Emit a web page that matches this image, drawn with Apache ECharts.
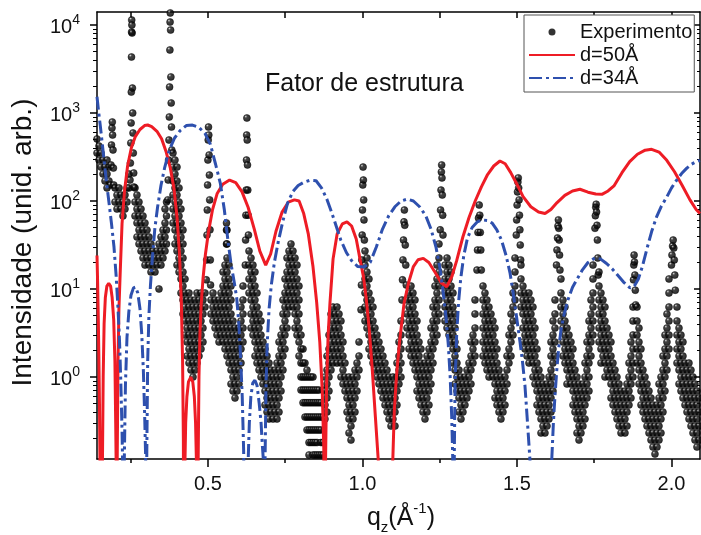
<!DOCTYPE html>
<html><head><meta charset="utf-8">
<script src="https://cdn.jsdelivr.net/npm/echarts@6/dist/echarts.min.js"></script>
<style>html,body{margin:0;padding:0;background:#fff}#c{width:701px;height:535px}</style>
</head><body><div id="c"></div>
<script>
// ---------- tick values ----------
const xTicksMajor = [0.5, 1.0, 1.5, 2.0];
const xTicksMinor = [0.25, 0.75, 1.25, 1.75];
const xTicksTop = [0.25, 0.5, 0.75, 1.0, 1.25, 1.5, 1.75, 2.0];
const yTicksMajor = [1, 10, 100, 1000, 10000];
const yTicksMinor = [0.2,0.3,0.4,0.5,0.6,0.7,0.8,0.9,2,3,4,5,6,7,8,9,20,30,40,50,60,70,80,90,
  200,300,400,500,600,700,800,900,2000,3000,4000,5000,6000,7000,8000,9000];

// ---------- model d=50 Å (red) [q, I] ----------
const red50 = [
[0.141,24],[0.143,12],[0.145,5],[0.147,1.8],[0.149,0.5],[0.1505,0.12],[0.155,0.001],[0.1575,0.05],[0.159,0.15],
[0.161,1.0],[0.164,4],[0.168,8],[0.173,10.8],[0.179,11.6],[0.185,10.8],[0.190,8],[0.195,4.5],[0.199,1.5],[0.2015,0.3],
[0.203,0.1],[0.2051,0.001],[0.2065,0.12],[0.209,1.5],[0.212,6],[0.216,15],[0.222,55],[0.230,130],[0.240,250],[0.252,400],
[0.265,540],[0.280,650],[0.295,720],[0.305,731],[0.318,700],[0.335,620],[0.350,510],[0.365,360],[0.378,240],[0.390,140],
[0.400,65],[0.408,25],[0.414,7],[0.418,1.5],[0.4205,0.2],[0.4226,0.001],[0.4255,0.1],[0.428,0.3],[0.432,0.6],[0.437,0.88],
[0.4443,1.0],[0.451,0.88],[0.456,0.6],[0.460,0.3],[0.4625,0.12],[0.4662,0.001],[0.4685,0.12],[0.471,1],[0.474,3],[0.478,6.5],
[0.484,13],[0.492,25],[0.502,45],[0.515,80],[0.530,122],[0.548,155],[0.570,173],[0.590,162],[0.610,128],[0.630,85],
[0.650,48],[0.668,27],[0.687,18.7],[0.703,25],[0.720,45],[0.740,75],[0.760,97],[0.780,103],[0.795,100],[0.810,72],
[0.825,42],[0.840,18],[0.852,7],[0.862,2.5],[0.870,0.7],[0.875,0.15],[0.8778,0.001],[0.8805,0.1],[0.884,0.8],[0.889,3],
[0.895,7],[0.905,22],[0.918,42],[0.935,55],[0.950,58],[0.965,52],[0.980,37],[0.992,22],[1.003,14],[1.012,8],[1.022,3.5],
[1.032,1.2],[1.042,0.35],[1.0515,0.11],[1.075,0.001],[1.0985,0.12],[1.103,0.4],[1.110,1.0],[1.120,2.5],[1.135,7],[1.150,12],
[1.165,18],[1.180,21.5],[1.197,22.3],[1.215,20],[1.235,15.5],[1.255,11.8],[1.273,10.6],[1.290,14],[1.305,21],[1.325,39],
[1.345,65],[1.365,100],[1.385,145],[1.405,200],[1.425,250],[1.445,285],[1.462,265],[1.480,210],[1.500,155],[1.520,112],
[1.545,86],[1.570,75],[1.591,72],[1.610,80],[1.630,96],[1.655,116],[1.680,130],[1.704,136],[1.730,126],[1.755,120],
[1.775,119],[1.795,130],[1.815,150],[1.840,210],[1.865,280],[1.890,340],[1.915,378],[1.936,387],[1.960,360],[1.985,290],
[2.010,215],[2.035,150],[2.060,103],[2.080,80],[2.0925,72]
];

// ---------- model d=34 Å (blue) [q, I] ----------
const blue34 = [
[0.141,1530],[0.146,1050],[0.152,700],[0.158,450],[0.165,270],[0.172,160],[0.180,95],[0.188,55],[0.196,30],[0.203,14],
[0.209,6],[0.214,2.5],[0.218,0.9],[0.222,0.25],[0.2245,0.08],[0.2265,0.001],[0.2295,0.12],[0.233,0.8],[0.238,2.8],[0.244,5.5],
[0.251,8.5],[0.259,10.3],[0.266,10.5],[0.273,9],[0.280,6],[0.286,3],[0.291,1.2],[0.295,0.4],[0.2985,0.12],[0.3005,0.001],
[0.302,0.12],[0.305,1.5],[0.309,5],[0.314,11],[0.320,22],[0.328,48],[0.337,85],[0.348,150],[0.360,240],[0.375,380],
[0.392,520],[0.410,630],[0.430,720],[0.450,730],[0.470,690],[0.490,590],[0.508,440],[0.525,260],[0.540,160],[0.553,80],
[0.565,35],[0.575,19],[0.585,12],[0.593,8],[0.600,4],[0.606,1.6],[0.611,0.6],[0.6155,0.15],[0.624,0.001],[0.6305,0.12],
[0.634,0.3],[0.639,0.6],[0.645,0.85],[0.652,0.92],[0.659,0.8],[0.666,0.5],[0.672,0.3],[0.676,0.17],[0.679,0.12],[0.682,0.001],
[0.685,0.12],[0.688,0.8],[0.692,2.5],[0.698,6],[0.705,11],[0.715,20],[0.728,35],[0.742,58],[0.758,95],[0.775,128],
[0.792,150],[0.810,163],[0.830,172],[0.850,170],[0.868,140],[0.885,105],[0.900,75],[0.915,52],[0.930,36],[0.948,26],
[0.965,21],[0.985,18],[1.005,17.8],[1.025,20],[1.045,30],[1.065,48],[1.085,68],[1.105,86],[1.125,100],[1.145,105],
[1.165,100],[1.185,86],[1.205,68],[1.222,48],[1.238,30],[1.250,18],[1.260,10],[1.270,5],[1.278,2.3],[1.284,1.0],
[1.289,0.35],[1.2925,0.11],[1.2945,0.001],[1.2975,0.15],[1.300,0.9],[1.305,3],[1.311,7],[1.318,13],[1.328,24],[1.340,38],
[1.355,50],[1.372,58],[1.388,61],[1.405,60],[1.420,56],[1.435,47],[1.450,36],[1.465,24],[1.478,15],[1.490,8],
[1.500,4.5],[1.510,2.5],[1.518,1.5],[1.526,0.8],[1.533,0.35],[1.540,0.15],[1.545,0.08],[1.549,0.001],[1.609,0.001],[1.613,0.12],
[1.618,0.3],[1.623,0.6],[1.629,1.2],[1.635,2.1],[1.643,3.5],[1.652,5],[1.665,7.5],[1.680,10.5],[1.695,13],[1.712,16.5],
[1.730,20],[1.752,22.5],[1.770,22],[1.790,19.5],[1.808,17],[1.825,14.5],[1.845,12],[1.866,10.3],[1.880,10.8],[1.893,13],
[1.906,18],[1.920,28],[1.936,45],[1.952,66],[1.968,88],[1.985,111],[2.000,140],[2.017,173],[2.033,205],[2.049,235],
[2.065,262],[2.080,280],[2.0925,290]
];

const expA = [
[0.1410,507,351],[0.1475,422,292],[0.1539,351,243],[0.1604,292,203],[0.1669,243,169],[0.1734,292,203,141],[0.1798,243,169],
[0.1847,152],[0.1863,257],[0.1879,433],[0.1895,676],[0.1905,790],[0.1915,562],[0.1928,380],[0.1941,237],[0.1954,152],
[0.1993,141,97.5],[0.2057,117,81.1],[0.2122,141,97.5],[0.2187,117,81.1],[0.2251,97.5,67.6],[0.2316,117,81.1],[0.2381,141,97.5],[0.2446,203,141],
[0.2478,173],[0.2491,270],[0.2504,456],[0.2514,770],[0.2520,1730],[0.2526,4330],[0.2530,8330],[0.2533,11400],[0.2539,10000],
[0.2546,8110],[0.2556,1920],[0.2565,1000],[0.2575,593],[0.2585,351],[0.2598,208],[0.2607,144],
[0.2640,141,97.5,67.6],[0.2704,117,81.1,56.3,39],[0.2769,97.5,67.6,46.8,32.5],[0.2834,81.1,56.3,39,27],[0.2899,67.6,46.8,32.5,22.5],
[0.2963,56.3,39,27,18.7],[0.3028,46.8,32.5,22.5],[0.3093,39,27,18.7],[0.3157,32.5,22.5,15.6],[0.3222,27,18.7],[0.3287,22.5,15.6],
[0.3352,27,18.7],[0.3416,32.5,22.5,10],[0.3481,39,27,18.7],[0.3546,46.8,32.5,22.5],[0.3611,81.1,56.3,39,27],[0.3659,97.5,67.6,46.8,32.5],
[0.3701,103],[0.3714,173],[0.3727,292],[0.3740,493],[0.3750,901],[0.3759,1975],[0.3769,5200],[0.3775,10800],[0.3782,13700],
[0.3792,8770],[0.3801,2570],[0.3811,1300],[0.3821,693],[0.3831,380],
[0.3869,351,243,169,117,81.1,56.3],[0.3934,292,203,141,97.5,67.6,46.8,32.5],[0.3999,243,169,117,81.1,56.3,39,27,18.7],
[0.4064,141,97.5,67.6,46.8,32.5,22.5,15.6],[0.4128,81.1,56.3,39,27,18.7,13,9.01],[0.4193,46.8,32.5,22.5,15.6,10.8,7.5,5.2],
[0.4258,13,9.01,6.24,4.33,3],[0.4323,7.5,5.2,3.6,2.5,1.73],[0.4387,9.01,6.24,4.33,3,2.08,1.44],[0.4452,7.5,5.2,3.6,2.5,1.73,1.2],
[0.4517,6.24,4.33,3,2.08,1.44,1],[0.4581,7.5,5.2,3.6,2.5,1.73,1.2],[0.4646,9.01,6.24,4.33,3,2.08,1.44],[0.4711,7.5,5.2,3.6,2.5,1.73],
[0.4776,9.01,6.24,4.33,3,2.08],[0.4840,7.5,5.2,3.6,2.5],[0.4905,9.01,6.24],
[0.4947,12.7],[0.4960,21.4],[0.4970,41],[0.4979,79],[0.4989,152],[0.4999,292],[0.5009,493],[0.5018,693],[0.5028,562],
[0.5038,333],[0.5047,197],[0.5057,103],[0.5067,47],[0.5077,21.4],[0.5086,11.1]
];
const expB = [
[0.5099,7.5,5.2],[0.5164,9.01,6.24,4.33],[0.5229,7.5,5.2,3.6],[0.5293,6.24,4.33,3],[0.5358,7.5,5.2,3.6,2.5],[0.5423,9.01,6.24,4.33,3],
[0.5488,15.6,10.8,7.5,5.2,3.6,2.5],[0.5552,18.7,13,9.01,6.24,4.33,3,2.08],[0.5601,32.5,46.8,56.3],
[0.5617,46.8,32.5,22.5,15.6,10.8,7.5,5.2,3.6,2.5,1.73],[0.5682,18.7,13,9.01,6.24,4.33,3,2.08,1.44],
[0.5746,10.8,7.5,5.2,3.6,2.5,1.73,1.2,0.833],[0.5811,4.33,3,2.08,1.44,1,0.693],[0.5876,3.6,2.5,1.73,1.2,0.833,0.577],
[0.5941,3,2.08,1.44,1,0.693],[0.6005,3.6,2.5,1.73,1.2,0.833],[0.6070,6.24,4.33,3,2.08,1.44],[0.6135,10.8,7.5,5.2,3.6,2.5],
[0.6209,18.7],[0.6219,36],[0.6229,69],[0.6238,133],[0.6248,292],[0.6254,562],[0.6261,877],[0.6271,493],[0.6280,257],
[0.6290,133],[0.6300,69],[0.6310,41],
[0.6329,27,18.7,13,9.01],[0.6394,22.5,15.6,10.8,7.5,5.2,3.6],[0.6458,18.7,13,9.01,6.24,4.33,3],[0.6523,15.6,10.8,7.5,5.2,3.6,2.5,1.73],
[0.6588,9.01,6.24,4.33,3,2.08,1.44],[0.6653,5.2,3.6,2.5,1.73,1.2],[0.6717,4.33,3,2.08,1.44,1],[0.6782,2.5,1.73,1.2,0.833],
[0.6847,2.08,1.44,1,0.693,0.481],[0.6912,1.73,1.2,0.833,0.577,0.4],[0.6976,1.44,1,0.693,0.481,0.333],[0.7041,1.2,0.833,0.577,0.4],
[0.7106,1,0.693,0.481,0.333],[0.7170,1.2,0.833,0.577,0.4],[0.7235,1.44,1,0.693,0.481,0.333],[0.7300,2.5,1.73,1.2,0.833,0.577,0.4],
[0.7365,3,2.08,1.44,1,0.693],[0.7429,7.5,5.2,3.6,2.5,1.73,1.2],[0.7494,13,9.01,6.24,4.33,3,2.08],[0.7559,22.5,15.6,10.8,7.5,5.2,3.6],
[0.7623,27,18.7,13,9.01,6.24],[0.7688,32.5,22.5,15.6,10.8,7.5],[0.7753,27,18.7,13,9.01,6.24],[0.7818,22.5,15.6,10.8,7.5,5.2,3.6],
[0.7882,18.7,13,9.01,6.24,4.33,3],[0.7947,10.8,7.5,5.2,3.6,2.5,1.73],
[0.8012,3,2.08,1.44,1,0.71],[0.8077,2.08,1.44,1,0.71,0.51],[0.8141,1.44,1,0.71,0.51,0.35],[0.8206,1.2,1,0.71,0.51,0.35,0.25],
[0.8271,1,0.71,0.51,0.35,0.25,0.18,0.13],[0.8335,1,0.71,0.51,0.35,0.25,0.18],[0.8400,1,0.71,0.51,0.35,0.25,0.18,0.13],
[0.8465,0.71,0.51,0.35,0.25,0.18,0.13],[0.8530,0.71,0.51,0.35,0.25,0.18,0.13],[0.8594,0.71,0.51,0.35,0.25,0.13],
[0.8659,0.51,0.35,0.25,0.18,0.13],[0.8724,0.71,0.35,0.18,0.13],
[0.8788,1,0.693,0.481,0.333],[0.8853,1.73,1.2,0.833,0.577,0.4],[0.8918,3,2.08,1.44,1,0.693],[0.8983,5.2,3.6,2.5,1.73,1.2],
[0.9047,6.24,4.33,3,2.08,1.44],[0.9112,5.2,3.6,2.5,1.73],[0.9177,6.24,4.33,3,2.08,1.44],[0.9242,5.2,3.6,2.5,1.73],
[0.9306,4.33,3,2.08,1.44,1],[0.9371,2.5,1.73,1.2,0.833],[0.9436,1.44,1,0.693],
[0.9501,0.833,0.577,0.4],[0.9565,1,0.693,0.481,0.333,0.231],[0.9630,0.833,0.577,0.4,0.277,0.192],[0.9695,1,0.693,0.481,0.333],
[0.9759,1.2,0.833,0.577,0.4],[0.9824,1.44,1,0.693],[0.9889,2.5,1.73,1.2],
[0.9954,5.8],[0.9967,11.1],[0.9980,21.4],[0.9992,41],[1.0002,79],[1.0012,152],[1.0021,243],[1.0031,173],[1.0041,103],
[1.0050,61],[1.0063,36]
];
const expC = [
[1.0083,27,18.7,13,9.01,6.24,4.33],[1.0147,22.5,15.6,10.8,7.5,5.2,3.6],[1.0212,13,9.01,6.24,4.33,3,2.08],[1.0277,7.5,5.2,3.6,2.5,1.73],
[1.0342,6.24,4.33,3,2.08,1.44],[1.0406,3.6,2.5,1.73,1.2],[1.0471,3,2.08,1.44,1],[1.0536,2.5,1.73,1.2,0.833],[1.0601,2.08,1.44,1,0.693],
[1.0665,1.73,1.2,0.833,0.577],[1.0730,1.44,1,0.693,0.481],[1.0795,1.2,0.833,0.577,0.4],[1.0859,1,0.693,0.481,0.333],
[1.0924,0.833,0.577,0.4,0.277],[1.0989,1,0.693,0.481,0.333],[1.1054,0.833,0.577,0.4,0.277],[1.1118,1.44,1,0.693,0.481],
[1.1183,2.5,1.73,1.2,0.833],[1.1248,4.33,3,2.08,1.44,1],
[1.1280,7.5],[1.1296,12.7],[1.1312,21.4],[1.1329,36],[1.1345,58],[1.1358,79],[1.1371,53],[1.1387,31.6],[1.1403,18.7],[1.1419,11.1],
[1.1442,7.5,5.2,3.6],[1.1507,9.01,6.24,4.33,3,2.08],[1.1572,10.8,7.5,5.2,3.6,2.5,1.73],[1.1636,9.01,6.24,4.33,3,2.08,1.44],
[1.1701,7.5,5.2,3.6,2.5,1.73,1.2],[1.1766,4.33,3,2.08,1.44,1,0.693],[1.1831,2.5,1.73,1.2,0.833,0.577],[1.1895,2.08,1.44,1,0.693,0.481],
[1.1960,1.2,0.833,0.577,0.4],[1.2025,1.44,1,0.693,0.481,0.333],[1.2089,1.73,1.2,0.833,0.577,0.4],[1.2154,2.08,1.44,1,0.693,0.481],
[1.2219,3.6,2.5,1.73,1.2,0.833],[1.2284,6.24,4.33,3,2.08,1.44],[1.2348,10.8,7.5,5.2,3.6,2.5],[1.2413,18.7,13,9.01,6.24,4.33,3],
[1.2478,32.5,22.5,15.6,10.8,7.5,5.2],
[1.2517,47],[1.2530,79],[1.2543,133],[1.2555,214],[1.2565,257],[1.2575,183],[1.2585,117],[1.2598,69],[1.2607,41],
[1.2672,18.7,13,9.01,6.24,4.33],[1.2737,22.5,15.6,10.8,7.5,5.2,3.6],[1.2801,18.7,13,9.01,6.24,4.33,3],[1.2866,15.6,10.8,7.5,5.2,3.6,2.5],
[1.2931,9.01,6.24,4.33,3,2.08,1.44],[1.2996,5.2,3.6,2.5,1.73,1.2,0.833],[1.3060,2.08,1.44,1,0.693],[1.3125,1.2,0.833,0.577,0.4],
[1.3190,1,0.693,0.481,0.333],[1.3254,0.833,0.577,0.4],[1.3319,1,0.693,0.481],[1.3384,1.2,0.833,0.577],[1.3449,1.44,1,0.693],
[1.3513,2.5,1.73,1.2,0.833],[1.3578,3,2.08,1.44],[1.3643,7.5,5.2,3.6,2.5,1.73],
[1.3708,16.4],[1.3724,27.7],[1.3740,44],[1.3756,64],[1.3779,90],[1.3798,69],[1.3814,44],[1.3831,27.7],[1.3847,16.4],
[1.3902,10.8,7.5,5.2,3.6,2.5,1.73],[1.3966,9.01,6.24,4.33,3,2.08,1.44],[1.4031,7.5,5.2,3.6,2.5,1.73,1.2],[1.4096,6.24,4.33,3,2.08,1.44,1],
[1.4161,5.2,3.6,2.5,1.73,1.2],[1.4225,4.33,3,2.08,1.44,1],[1.4290,3.6,2.5,1.73,1.2,0.833,0.577],[1.4355,2.08,1.44,1,0.693,0.481],
[1.4419,1.2,0.833,0.577,0.4],[1.4484,1,0.693,0.481,0.333],[1.4549,0.833,0.577,0.4],[1.4614,1,0.693,0.481],[1.4678,1.73,1.2,0.833],
[1.4743,3,2.08,1.44],[1.4808,5.2,3.6,2.5,1.73],[1.4873,9.01,6.24,4.33,3],[1.4937,22.5,15.6,10.8,7.5],
[1.4979,41],[1.4992,61],[1.5005,90],[1.5018,127],[1.5031,164],[1.5044,183],[1.5057,141],[1.5070,103],[1.5083,69],[1.5096,47],
[1.5108,31.6],[1.5121,21.4]
];
const expD = [
[1.5131,18.7,13,9.01,6.24],[1.5196,10.8,7.5,5.2,3.6,2.5],[1.5261,9.01,6.24,4.33,3,2.08],[1.5325,7.5,5.2,3.6,2.5,1.73],
[1.5390,9.01,6.24,4.33,3,2.08,1.44],[1.5455,7.5,5.2,3.6,2.5,1.73],[1.5520,6.24,4.33,3,2.08,1.44,1],[1.5584,3.6,2.5,1.73,1.2,0.833],
[1.5649,2.08,1.44,1,0.693,0.481],[1.5714,1.2,0.833,0.577,0.4],[1.5779,1,0.693,0.481,0.333,0.231],[1.5843,0.833,0.577,0.4,0.277],
[1.5908,0.693,0.481,0.333,0.231],[1.5973,0.833,0.577,0.4,0.277],[1.6038,1,0.693,0.481,0.333],[1.6102,2.5,1.73,1.2,0.833,0.577,0.4],
[1.6167,4.33,3,2.08,1.44,1,0.693],[1.6232,7.5,5.2,3.6,2.5,1.73],
[1.6280,18.7],[1.6296,27.7],[1.6313,38],[1.6329,52],[1.6342,61],[1.6355,49],[1.6367,36],[1.6380,24.3],[1.6393,16.4],
[1.6426,13,9.01,6.24,4.33],[1.6491,7.5,5.2,3.6,2.5,1.73],[1.6555,6.24,4.33,3,2.08,1.44],[1.6620,3.6,2.5,1.73,1.2,0.833],
[1.6685,3,2.08,1.44,1],[1.6750,2.5,1.73,1.2,0.833],[1.6814,2.08,1.44,1,0.693,0.481],[1.6879,1.2,0.833,0.577,0.4],
[1.6944,1,0.693,0.481,0.333,0.231],[1.7009,0.833,0.577,0.4,0.277,0.192],[1.7073,0.693,0.481,0.333,0.231],[1.7138,0.833,0.577,0.4,0.277],
[1.7203,1.44,1,0.693,0.481,0.333],[1.7267,2.5,1.73,1.2,0.833,0.577],[1.7332,4.33,3,2.08,1.44,1,0.693],[1.7397,7.5,5.2,3.6,2.5,1.73],
[1.7462,18.7,13,9.01,6.24,4.33,3],
[1.7526,49],[1.7539,68],[1.7552,85],[1.7565,92],[1.7578,75],[1.7591,53],[1.7604,36],[1.7617,22.5],[1.7630,14.4],
[1.7656,15.6,10.8,7.5,5.2,3.6,2.5],[1.7720,9.01,6.24,4.33,3,2.08,1.44],[1.7785,7.5,5.2,3.6,2.5,1.73],[1.7850,6.24,4.33,3,2.08,1.44,1],
[1.7915,3.6,2.5,1.73,1.2],[1.7979,3,2.08,1.44,1],[1.8044,2.5,1.73,1.2,0.833,0.577],[1.8109,1.44,1,0.693,0.481],
[1.8174,1.2,0.833,0.577,0.4],[1.8238,1,0.693,0.481,0.333],[1.8303,0.833,0.577,0.4,0.277],[1.8368,0.693,0.481,0.333,0.231],
[1.8433,0.577,0.4,0.277],[1.8497,0.693,0.481,0.333,0.231],[1.8562,0.833,0.577,0.4,0.277],[1.8627,1.44,1,0.693,0.481],
[1.8691,2.5,1.73,1.2,0.833,0.577],[1.8756,6.24,4.33,3,2.08,1.44,1],
[1.8772,12.7],[1.8782,18.7],[1.8792,24.3],[1.8805,20.3],[1.8818,14.4],[1.8831,9.7],[1.8844,6.6],
[1.8886,6.24,4.33,3,2.08,1.44],[1.8950,3.6,2.5,1.73,1.2,0.833],[1.9015,2.08,1.44,1,0.693,0.481],[1.9080,1.2,0.833,0.577,0.4],
[1.9145,1,0.693,0.481,0.333],[1.9209,0.833,0.577,0.4,0.277],[1.9274,0.693,0.481,0.333,0.231],[1.9339,0.577,0.4,0.277,0.192],
[1.9403,0.481,0.333,0.231,0.16],[1.9468,0.4,0.277,0.192,0.133],[1.9533,0.481,0.333,0.231,0.16],[1.9598,0.833,0.577,0.4,0.277,0.192],
[1.9662,1,0.693,0.481,0.333,0.231],[1.9727,1.73,1.2,0.833,0.577,0.4],[1.9792,3,2.08,1.44,1,0.693],[1.9856,5.2,3.6,2.5,1.73,1.2],
[1.9921,13,9.01,6.24,4.33,3,2.08],
[2.0002,18.7],[2.0018,24.3],[2.0038,30.8],[2.0057,36],[2.0077,29.2],[2.0093,21.4],[2.0109,14.4],[2.0125,9.7],
[2.0180,6.24,4.33,3,2.08,1.44],[2.0245,3.6,2.5,1.73,1.2,0.833],[2.0309,3,2.08,1.44,1,0.693],[2.0374,2.5,1.73,1.2,0.833,0.577],
[2.0439,1.44,1,0.693,0.481],[2.0504,1.2,0.833,0.577,0.4],[2.0568,1.44,1,0.693,0.481,0.333],[2.0633,1.2,0.833,0.577,0.4,0.277],
[2.0698,1,0.693,0.481,0.333,0.231],[2.0762,0.833,0.577,0.4,0.277,0.192],[2.0827,0.693,0.481,0.333,0.231,0.16],[2.0892,0.577,0.4,0.277,0.192]
];

// ---------- build ----------
const expData = [];
[expA, expB, expC, expD].forEach(part => part.forEach(col => {
  for (let j = 1; j < col.length; j++) expData.push([col[0], col[j]]);
}));

const FONT = '"Liberation Sans", Arial, sans-serif';
const TXT = '#111';
const AX = {color: '#000', width: 1.5};
const RED = '#ee1c25', BLUE = '#2e50ae';
const X_MIN = 0.141, X_MAX = 2.0925, Y_MIN = 0.117, Y_MAX = 14060;

const xBase = {type: 'value', min: X_MIN, max: X_MAX, splitLine: {show: false},
  axisLabel: {show: false}, axisTick: {show: false}, axisLine: {show: false, onZero: false}};
const yBase = {type: 'log', logBase: 10, min: Y_MIN, max: Y_MAX, splitLine: {show: false},
  axisLabel: {show: false}, axisTick: {show: false}, axisLine: {show: false, onZero: false}};

const ball = {type: 'radial', x: 0.35, y: 0.3, r: 0.62,
  colorStops: [{offset: 0, color: '#d4d4d4'}, {offset: 0.14, color: '#7a7a7a'}, {offset: 0.32, color: '#141414'}, {offset: 1, color: '#000'}]};
const hidden = {color: 'rgba(0,0,0,0)', borderColor: 'rgba(0,0,0,0)', borderWidth: 0};

const chart = echarts.init(document.getElementById('c'), null, {renderer: 'canvas'});
chart.setOption({
  animation: false,
  backgroundColor: '#fff',
  grid: {left: 97, top: 12, right: 1, bottom: 76},
  legend: {
    orient: 'vertical', left: 524, top: 15, padding: [7, 2, 4, 4],
    itemWidth: 46, itemHeight: 7, itemGap: 3,
    backgroundColor: '#fff', borderColor: '#555', borderWidth: 1,
    textStyle: {fontSize: 20, fontFamily: FONT, color: TXT},
    data: [
      {name: 'Experimento', itemStyle: {color: '#000', borderWidth: 0}},
      {name: 'd=50Å', itemStyle: hidden},
      {name: 'd=34Å', itemStyle: hidden}
    ]
  },
  xAxis: [
    Object.assign({}, xBase, {position: 'bottom',
      axisLine: {show: true, onZero: false, lineStyle: AX},
      axisTick: {show: true, customValues: xTicksMajor, length: 8, lineStyle: AX},
      axisLabel: {show: true, customValues: xTicksMajor, formatter: v => v.toFixed(1), margin: 15,
        fontSize: 20, fontFamily: FONT, color: TXT}}),
    Object.assign({}, xBase, {position: 'bottom',
      axisTick: {show: true, customValues: xTicksMinor, length: 4, lineStyle: AX}}),
    Object.assign({}, xBase, {position: 'top',
      axisLine: {show: true, onZero: false, lineStyle: AX},
      axisTick: {show: true, inside: true, customValues: xTicksTop, length: 6, lineStyle: AX}})
  ],
  yAxis: [
    Object.assign({}, yBase, {position: 'left',
      axisLine: {show: true, onZero: false, lineStyle: AX},
      axisTick: {show: true, customValues: yTicksMajor, length: 7, lineStyle: AX},
      axisLabel: {show: true, customValues: yTicksMajor, margin: 17,
        formatter: v => '{b|10}{s|' + Math.round(Math.log10(v)) + '}',
        rich: {
          b: {fontSize: 20, lineHeight: 24, verticalAlign: 'bottom', fontFamily: FONT, color: TXT},
          s: {fontSize: 14, lineHeight: 14, verticalAlign: 'top', fontFamily: FONT, color: TXT}
        }}}),
    Object.assign({}, yBase, {position: 'left',
      axisTick: {show: true, customValues: yTicksMinor, length: 4, lineStyle: {color: '#000', width: 1}}}),
    Object.assign({}, yBase, {position: 'right',
      axisLine: {show: true, onZero: false, lineStyle: AX},
      axisTick: {show: true, inside: true, customValues: yTicksMajor, length: 6, lineStyle: AX}}),
    Object.assign({}, yBase, {position: 'right',
      axisTick: {show: true, inside: true, customValues: yTicksMinor, length: 3, lineStyle: {color: '#000', width: 1}}})
  ],
  series: [
    {type: 'scatter', name: 'Experimento', data: expData, xAxisIndex: 0, yAxisIndex: 0,
      symbol: 'circle', symbolSize: 7, silent: true, z: 2,
      itemStyle: {color: ball, borderColor: '#000', borderWidth: 0.6}},
    {type: 'line', name: 'd=50Å', data: red50, xAxisIndex: 0, yAxisIndex: 0, symbol: 'none', z: 3,
      silent: true, itemStyle: {color: RED}, lineStyle: {color: RED, width: 3}},
    {type: 'line', name: 'd=34Å', data: blue34, xAxisIndex: 0, yAxisIndex: 0, symbol: 'none', z: 4,
      silent: true, itemStyle: {color: BLUE}, lineStyle: {color: BLUE, width: 3, type: [13, 4, 3, 4]}}
  ],
  graphic: [
    {type: 'text', x: 265, y: 84, silent: true,
      style: {text: 'Fator de estrutura', fontSize: 25, fontFamily: FONT, fill: TXT, align: 'left', verticalAlign: 'middle'}},
    {type: 'text', x: 23, y: 242.5, rotation: Math.PI / 2, silent: true,
      style: {text: 'Intensidade (unid. arb.)', fontSize: 28, fontFamily: FONT, fill: TXT, align: 'center', verticalAlign: 'middle'}},
    {type: 'text', x: 401, y: 518, silent: true,
      style: {text: '{m|q}{s|z}{m|(Å}{p|-1}{m|)}', align: 'center', verticalAlign: 'middle', fill: TXT,
        rich: {
          m: {fontSize: 25, lineHeight: 34, verticalAlign: 'middle', fontFamily: FONT, fill: TXT},
          s: {fontSize: 15, lineHeight: 24, verticalAlign: 'bottom', fontFamily: FONT, fill: TXT},
          p: {fontSize: 15, lineHeight: 15, verticalAlign: 'top', fontFamily: FONT, fill: TXT}
        }}}
  ]
});
</script>
</body></html>
